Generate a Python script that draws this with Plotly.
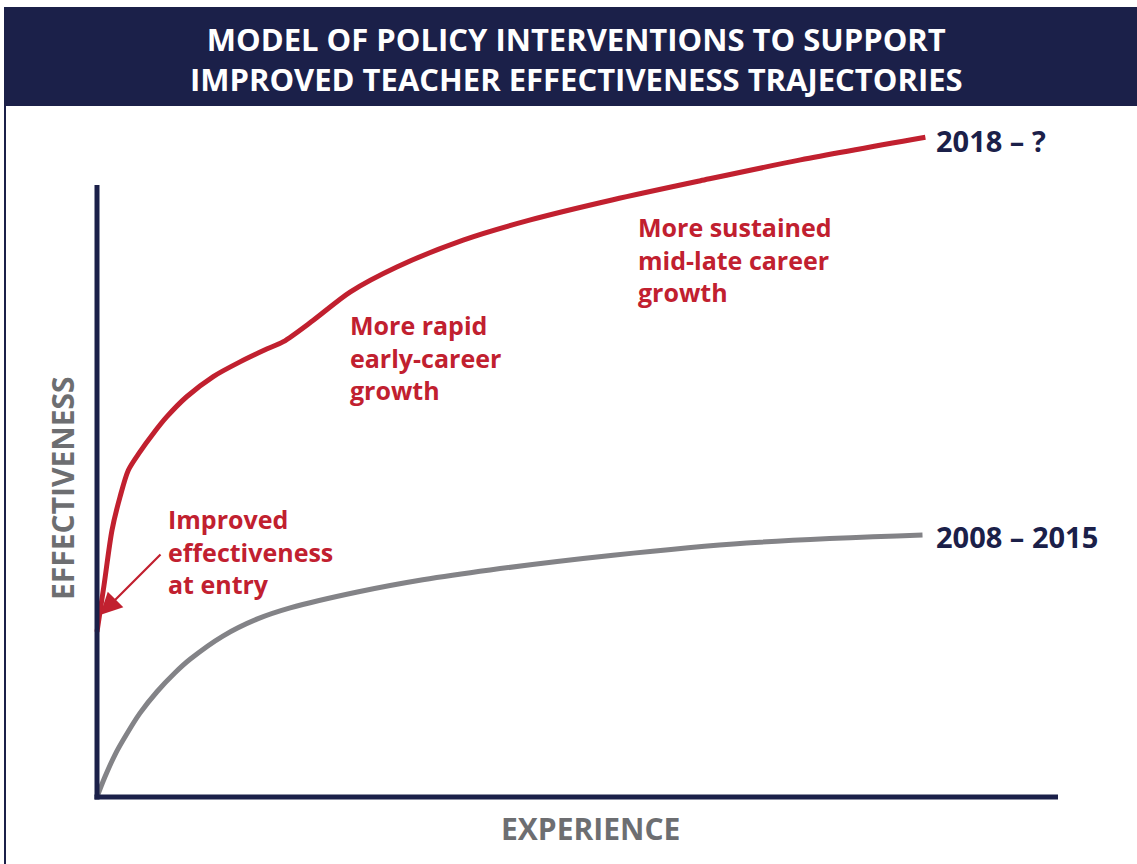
import plotly.graph_objects as go

# Data (experience units 0-100 along x, effectiveness 0-100 along y)
red_x = [0, 0.73, 1.56, 2.39, 3.26, 4.47, 5.86, 7.25, 9.33, 12.1, 14.88, 17.66, 19.39, 22.51, 26.33, 31.2, 38.1, 45.1, 53.7, 62.8, 73.2, 86.2]
red_y = [27.0, 34.6, 43.6, 49.0, 53.4, 56.4, 59.4, 62.1, 65.4, 68.7, 71.1, 73.2, 74.4, 77.9, 82.5, 86.6, 91.0, 94.3, 97.6, 100.7, 104.1, 107.8]
gray_x = [0, 0.83, 1.87, 2.91, 4.47, 6.24, 8.12, 9.68, 13.1, 16.7, 20.1, 27.1, 33.9, 40.9, 53.7, 67.6, 85.9]
gray_y = [0, 3.3, 6.9, 9.8, 13.7, 17.2, 20.3, 22.5, 26.3, 29.1, 30.9, 33.5, 35.5, 37.1, 39.5, 41.5, 42.8]

series_labels = ["2018 – ?", "2008 – 2015"]
title_text = "MODEL OF POLICY INTERVENTIONS TO SUPPORT<br>IMPROVED TEACHER EFFECTIVENESS TRAJECTORIES"
x_title = "EXPERIENCE"
y_title = "EFFECTIVENESS"
notes = ["Improved<br>effectiveness<br>at entry",
         "More rapid<br>early-career<br>growth",
         "More sustained<br>mid-late career<br>growth"]

NAVY = "#1b2049"
RED = "#c1202f"
GRAY = "#838387"
TGRAY = "#6d6e71"
FONT = "Open Sans"

W, H = 1137, 864
# pixel mapping: origin at (97, 797); 9.61 px per x unit, 6.12 px per y unit
OX, OY, SX, SY = 97, 797, 9.61, 6.12


def dx(p):
    return (p - OX) / SX


def dy(p):
    return (OY - p) / SY


fig = go.Figure()
fig.add_trace(go.Scatter(x=gray_x, y=gray_y, mode="lines",
                         line=dict(color=GRAY, width=5, shape="spline", smoothing=1.0),
                         hoverinfo="skip", showlegend=False))
fig.add_trace(go.Scatter(x=red_x, y=red_y, mode="lines",
                         line=dict(color=RED, width=5, shape="spline", smoothing=0.8),
                         hoverinfo="skip", showlegend=False))

shapes = [
    # title band
    dict(type="rect", xref="x", yref="y", x0=dx(4), x1=dx(1140), y0=dy(106), y1=dy(7),
         fillcolor=NAVY, line=dict(width=0), layer="below"),
    # left frame line
    dict(type="line", xref="x", yref="y", x0=dx(5), x1=dx(5), y0=dy(106), y1=dy(870),
         line=dict(color=NAVY, width=2)),
    # axes
    dict(type="line", xref="x", yref="y", x0=0, x1=0, y0=dy(799.5), y1=100,
         line=dict(color=NAVY, width=5)),
    dict(type="line", xref="x", yref="y", x0=dx(94.5), x1=100, y0=0, y1=0,
         line=dict(color=NAVY, width=5)),
]

annotations = [
    dict(text=title_text, x=dx(576), y=dy(59), xanchor="center",
         yanchor="middle", showarrow=False, align="center",
         font=dict(family=FONT, size=31, color="white", weight="bold")),
    dict(text=y_title, x=dx(62), y=dy(488),
         textangle=-90, showarrow=False, xanchor="center", yanchor="middle",
         font=dict(family=FONT, size=30, color=TGRAY, weight="bold")),
    dict(text=x_title, x=dx(590), y=dy(828),
         showarrow=False, xanchor="center", yanchor="middle",
         font=dict(family=FONT, size=30, color=TGRAY, weight="bold")),
    dict(text=series_labels[0], x=dx(934), y=dy(140),
         showarrow=False, xanchor="left", yanchor="middle",
         font=dict(family=FONT, size=29, color=NAVY, weight="bold")),
    dict(text=series_labels[1], x=dx(934), y=dy(536),
         showarrow=False, xanchor="left", yanchor="middle",
         font=dict(family=FONT, size=29, color=NAVY, weight="bold")),
    dict(text=notes[0], x=dx(166), y=dy(551),
         showarrow=False, xanchor="left", yanchor="middle", align="left",
         font=dict(family=FONT, size=25, color=RED, weight="bold")),
    dict(text=notes[1], x=dx(348), y=dy(357),
         showarrow=False, xanchor="left", yanchor="middle", align="left",
         font=dict(family=FONT, size=25, color=RED, weight="bold")),
    dict(text=notes[2], x=dx(636), y=dy(259),
         showarrow=False, xanchor="left", yanchor="middle", align="left",
         font=dict(family=FONT, size=25, color=RED, weight="bold")),
    # arrow to entry point
    dict(text="", axref="x", ayref="y",
         x=dx(100), y=dy(615), ax=dx(162), ay=dy(553),
         showarrow=True, arrowhead=2, arrowsize=2.0, arrowwidth=2.2, arrowcolor=RED),
]

fig.update_layout(
    width=W, height=H,
    margin=dict(l=0, r=0, t=0, b=0),
    paper_bgcolor="white", plot_bgcolor="white",
    xaxis=dict(range=[dx(0), dx(W)], visible=False, fixedrange=True),
    yaxis=dict(range=[dy(H), dy(0)], visible=False, fixedrange=True),
    shapes=shapes, annotations=annotations,
    showlegend=False,
)

fig.write_html("out.html")
